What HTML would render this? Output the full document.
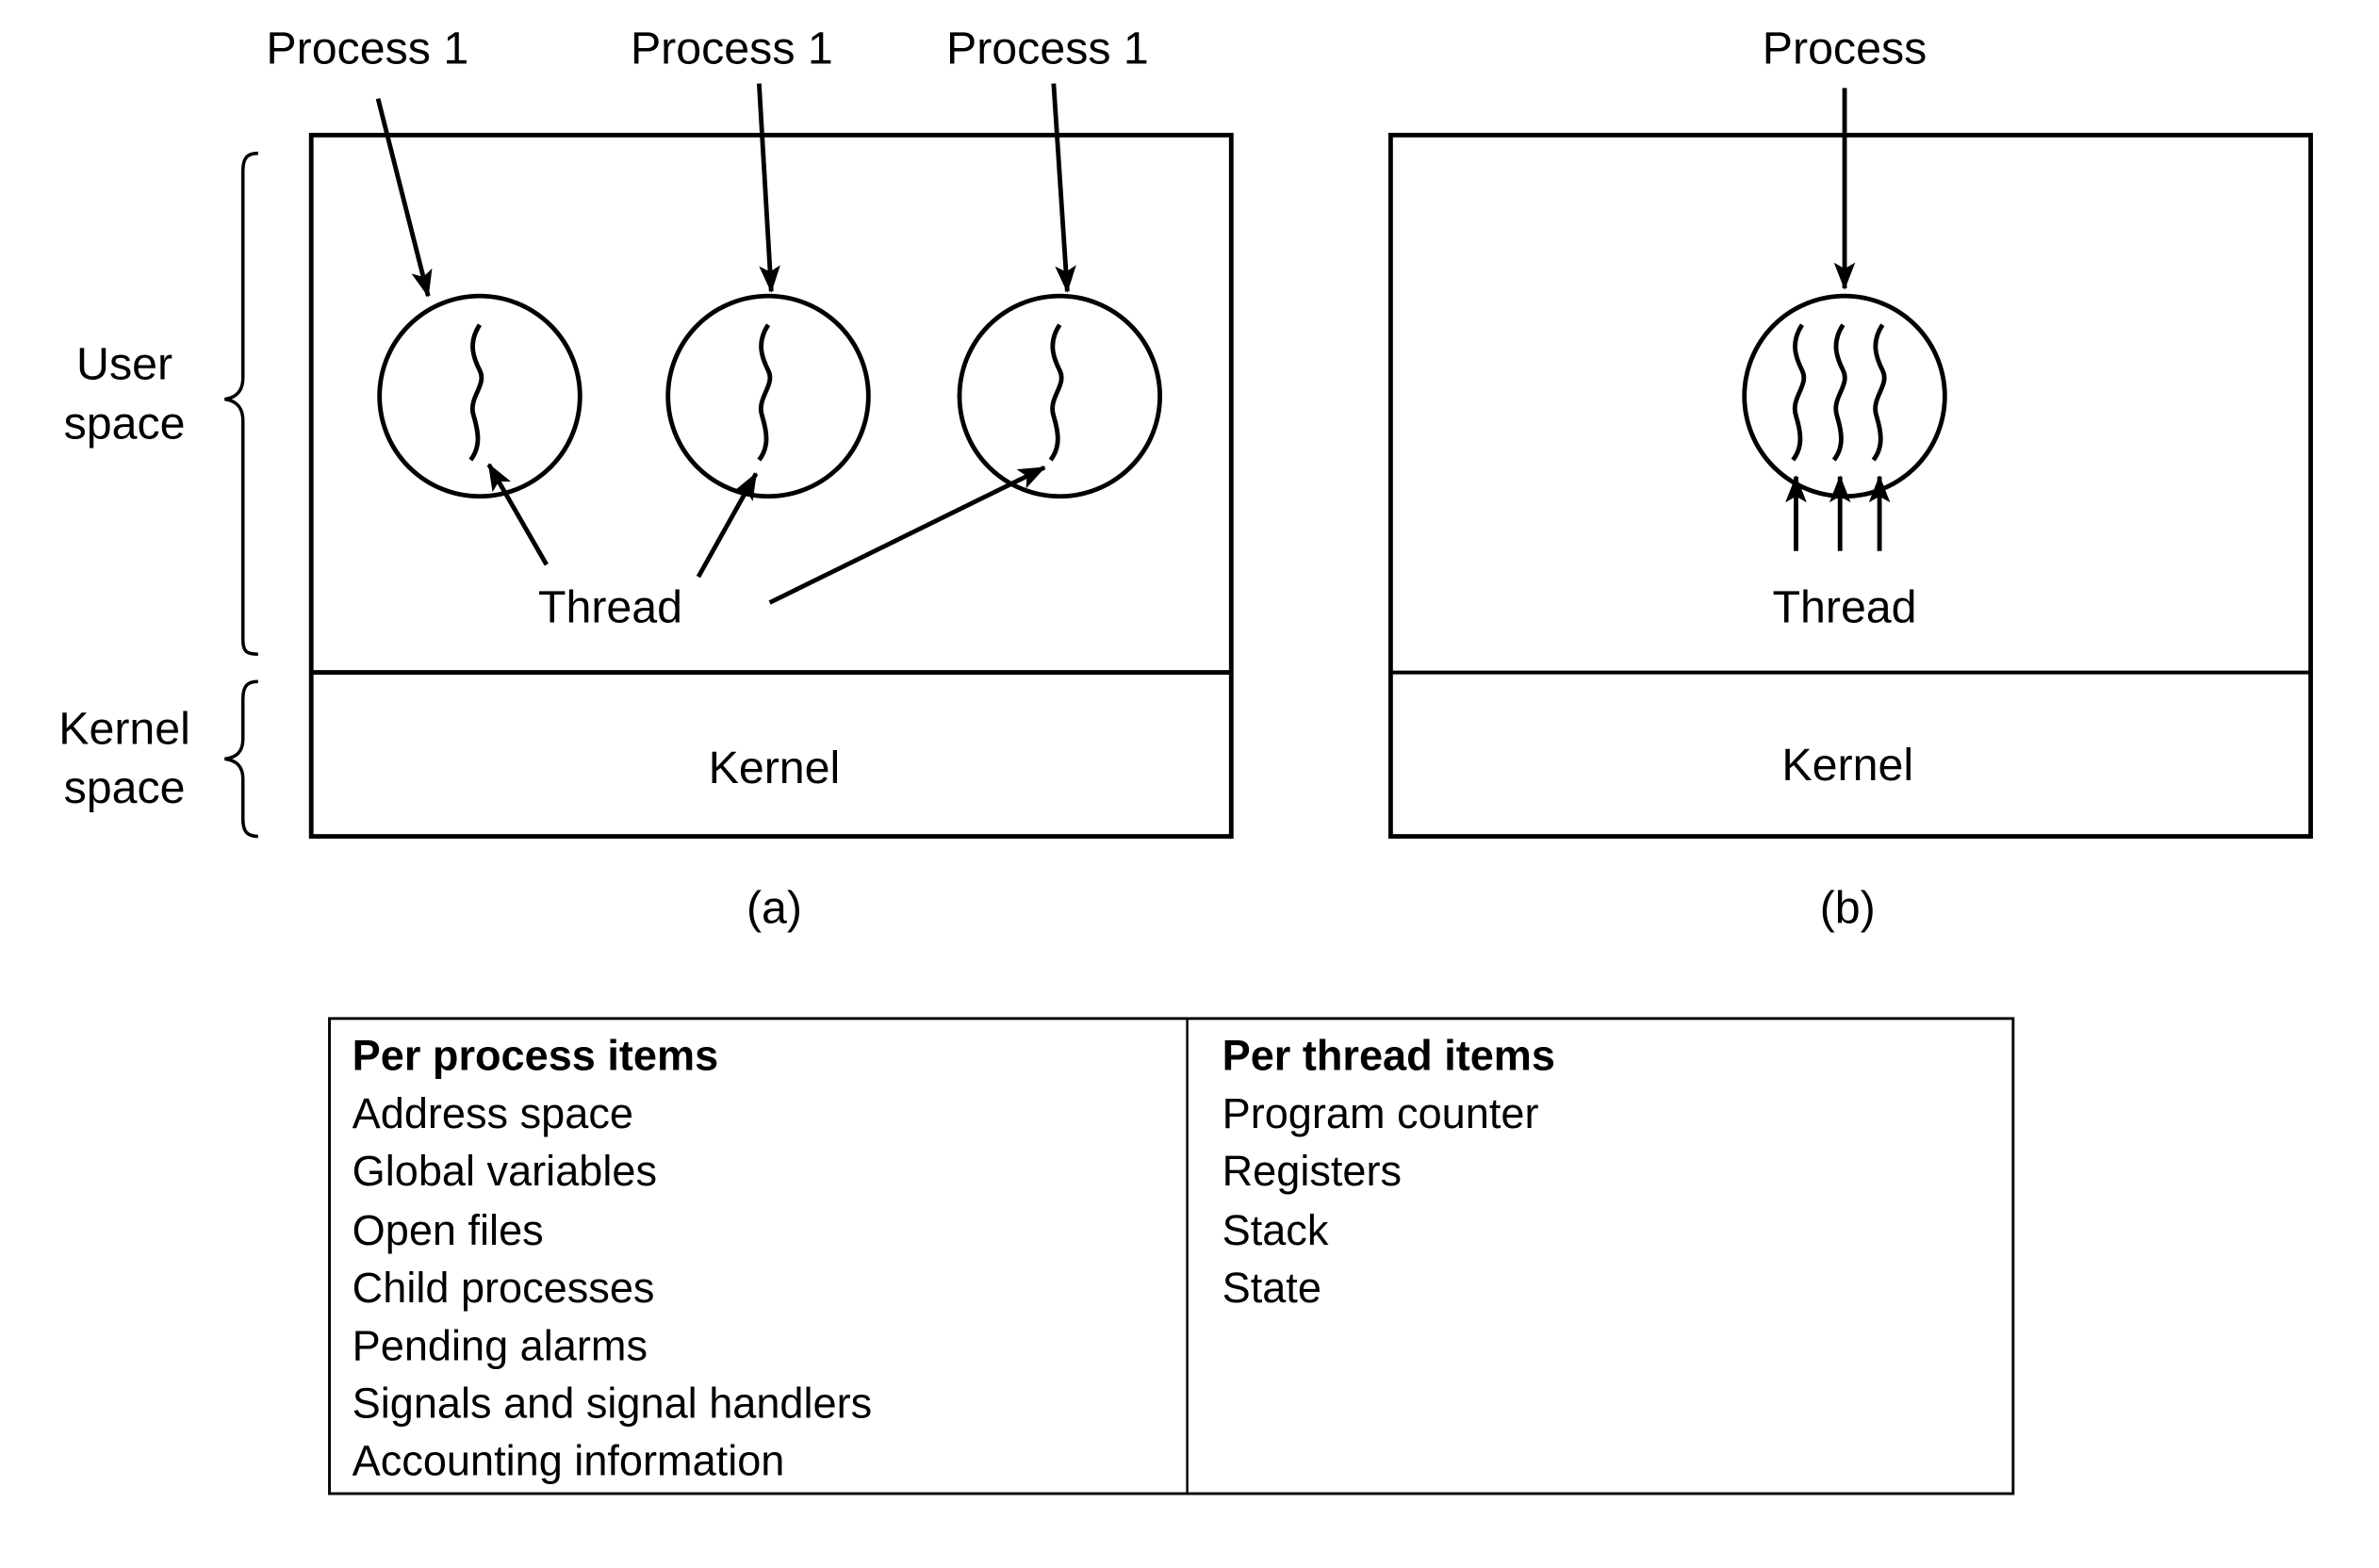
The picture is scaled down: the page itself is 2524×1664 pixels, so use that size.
<!DOCTYPE html>
<html><head><meta charset="utf-8"><style>html,body{margin:0;padding:0;background:#fff}svg{display:block}</style></head>
<body>
<svg width="2524" height="1664" viewBox="0 0 1567 1033" preserveAspectRatio="none" xmlns="http://www.w3.org/2000/svg" font-family="Liberation Sans, sans-serif" fill="none" stroke="#000">
<defs>
<marker id="ah2" markerWidth="18" markerHeight="14" refX="17" refY="7" orient="auto" markerUnits="userSpaceOnUse"><path d="M0,0 L18,7 L0,14 L4,7 z" fill="#000" stroke="none"/></marker>
</defs>
<g stroke-width="3">
<rect x="205" y="89" width="606" height="462"/>
<line x1="205" y1="443" x2="811" y2="443"/>
<rect x="916" y="89" width="606" height="462"/>
<line x1="916" y1="443" x2="1522" y2="443" stroke-width="2.5"/>
<ellipse cx="316" cy="261" rx="66" ry="66"/>
<ellipse cx="506" cy="261" rx="66" ry="66"/>
<ellipse cx="698" cy="261" rx="66" ry="66"/>
<ellipse cx="1215" cy="261" rx="66" ry="66"/>
<g marker-end="url(#ah2)">
<line x1="249" y1="65" x2="282" y2="195"/>
<line x1="500" y1="55" x2="508" y2="192"/>
<line x1="694" y1="55" x2="703" y2="192"/>
<line x1="1215" y1="58" x2="1215" y2="190"/>
<line x1="360" y1="372" x2="322" y2="306"/>
<line x1="460" y1="380" x2="498" y2="312"/>
<line x1="507" y1="397" x2="688" y2="308"/>
<line x1="1183" y1="363" x2="1183" y2="314"/>
<line x1="1212" y1="363" x2="1212" y2="314"/>
<line x1="1238" y1="363" x2="1238" y2="314"/>
</g>
</g>
<g stroke-width="3">
<path d="M316,214 c-8,12 -4,22 0,30 c5,10 -8,18 -4,30 c3,10 5,20 -2,29"/>
<path d="M506,214 c-8,12 -4,22 0,30 c5,10 -8,18 -4,30 c3,10 5,20 -2,29"/>
<path d="M698,214 c-8,12 -4,22 0,30 c5,10 -8,18 -4,30 c3,10 5,20 -2,29"/>
<path d="M1187,214 c-8,12 -4,22 0,30 c5,10 -8,18 -4,30 c3,10 5,20 -2,29"/>
<path d="M1214,214 c-8,12 -4,22 0,30 c5,10 -8,18 -4,30 c3,10 5,20 -2,29"/>
<path d="M1240,214 c-8,12 -4,22 0,30 c5,10 -8,18 -4,30 c3,10 5,20 -2,29"/>
</g>
<g stroke-width="2.2">
<path d="M170,101 c-8,0 -10,4 -10,12 v136 c0,8 -4,13 -12,14 c8,1 12,6 12,14 v144 c0,8 2,10 10,10"/>
<path d="M170,449 c-8,0 -10,4 -10,12 v26 c0,8 -4,12 -12,13 c8,1 12,5 12,13 v26 c0,8 2,12 10,12"/>
</g>
<g fill="#000" stroke="none" font-size="30" text-anchor="middle">
<text x="242" y="42">Process 1</text>
<text x="482" y="42">Process 1</text>
<text x="690" y="42">Process 1</text>
<text x="1215" y="42">Process</text>
<text x="402" y="410">Thread</text>
<text x="1215" y="410">Thread</text>
<text x="510" y="516">Kernel</text>
<text x="1217" y="514">Kernel</text>
<text x="510" y="608">(a)</text>
<text x="1217" y="608">(b)</text>
<text x="82" y="250">User</text>
<text x="82" y="289">space</text>
<text x="82" y="490">Kernel</text>
<text x="82" y="529">space</text>
</g>
<rect x="217" y="671" width="1109" height="313" stroke-width="1.8"/>
<line x1="782" y1="671" x2="782" y2="984" stroke-width="1.5"/>
<g fill="#000" stroke="none" font-size="28">
<text x="232" y="705" font-weight="bold">Per process items</text>
<text x="232" y="743">Address space</text>
<text x="232" y="781">Global variables</text>
<text x="232" y="820">Open files</text>
<text x="232" y="858">Child processes</text>
<text x="232" y="896">Pending alarms</text>
<text x="232" y="934">Signals and signal handlers</text>
<text x="232" y="972">Accounting information</text>
<text x="805" y="705" font-weight="bold">Per thread items</text>
<text x="805" y="743">Program counter</text>
<text x="805" y="781">Registers</text>
<text x="805" y="820">Stack</text>
<text x="805" y="858">State</text>
</g>
</svg>
</body></html>
